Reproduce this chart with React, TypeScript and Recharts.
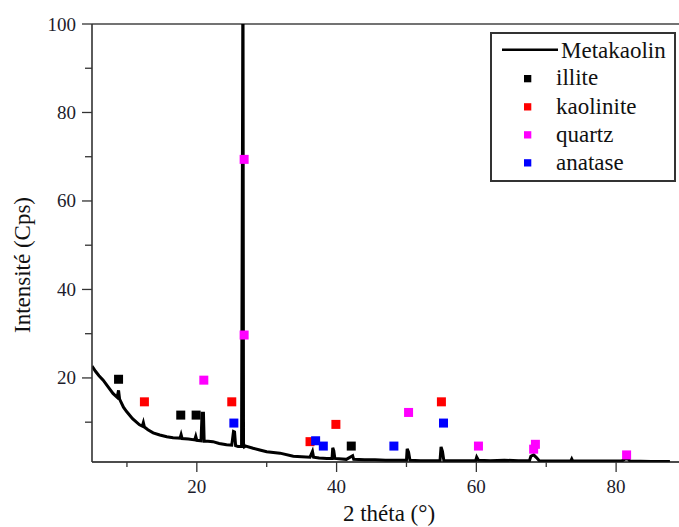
import React from 'react';
import {
  ComposedChart,
  Line,
  Scatter,
  XAxis,
  YAxis,
  ReferenceLine,
  Legend,
} from 'recharts';

const FONT = 'Liberation Serif';
const txt = (size: number) => ({ fontFamily: FONT, fontSize: size });

// Metakaolin XRD pattern (2θ, intensity)
const metakaolinX = [
  5.0, 5.5, 6.0, 6.6, 7.2, 8.0, 8.6, 8.8, 8.95, 9.5, 9.95, 10.8, 11.8, 12.2, 12.35, 12.5,
  13.0, 13.75, 14.7, 15.7, 16.6, 17.6, 17.75, 17.9, 18.8, 19.7, 19.85, 20.0, 20.6, 20.75,
  20.95, 21.05, 21.6, 22.3, 23.2, 24.25, 25.0, 25.25, 25.4, 25.55, 25.9, 26.4, 26.55, 26.6,
  26.68, 26.8, 27.0, 28.05, 29.0, 30.0, 31.9, 33.8, 35.0, 36.2, 36.55, 36.7, 37.5, 38.6,
  39.35, 39.45, 39.6, 39.75, 41.4, 42.3, 42.45, 44.0, 45.5, 47.0, 50.0, 50.1, 50.3, 50.5,
  52.0, 54.8, 54.95, 55.15, 55.35, 57.0, 59.9, 60.05, 60.3, 62.0, 64.0, 66.0, 67.6, 67.8,
  68.2, 68.6, 69.0, 73.5, 73.65, 73.8, 77.0, 80.8, 81.3, 81.7, 82.0, 85.0, 87.7,
];
const metakaolinY = [
  22.7, 21.5, 20.5, 19.5, 18.2, 16.5, 15.6, 17.2, 15.2, 13.4, 12.4, 10.8, 9.4, 9.1, 9.9, 8.9,
  8.3, 7.6, 7.1, 6.7, 6.5, 6.4, 7.2, 6.3, 6.2, 6.0, 6.8, 5.9, 5.8, 12.0,
  12.0, 5.7, 5.7, 5.6, 5.2, 4.9, 4.8, 7.9, 7.8, 4.7, 4.5, 4.5, 82.0, 120.0,
  5.2, 4.4, 4.6, 4.1, 3.7, 3.3, 3.0, 2.3, 2.2, 2.1, 3.4, 2.1, 1.9, 1.8,
  1.8, 4.2, 3.5, 1.8, 1.6, 2.4, 1.6, 1.5, 1.5, 1.4, 1.4, 4.0, 3.2, 1.4,
  1.3, 1.3, 4.4, 3.4, 1.3, 1.3, 1.3, 2.1, 1.4, 1.3, 1.4, 1.3, 1.3, 2.3,
  2.6, 2.0, 1.3, 1.2, 1.7, 1.2, 1.2, 1.2, 1.7, 1.7, 1.2, 1.1, 1.1,
];

// Phase markers
const illiteX = [8.8, 17.7, 19.9, 42.1];
const illiteY = [19.7, 11.6, 11.6, 4.6];
const kaoliniteX = [12.5, 25.0, 36.2, 39.9, 55.0];
const kaoliniteY = [14.6, 14.6, 5.6, 9.5, 14.6];
const quartzX = [21.0, 26.77, 26.77, 50.3, 60.3, 68.2, 68.45, 81.5];
const quartzY = [19.5, 69.4, 29.7, 12.2, 4.6, 3.9, 5.0, 2.6];
const anataseX = [25.3, 37.0, 38.1, 48.2, 55.3];
const anataseY = [9.8, 5.8, 4.6, 4.6, 9.8];

const xTicks = [10, 20, 30, 40, 50, 60, 70, 80];
const yTicks = [10, 20, 30, 40, 50, 60, 70, 80, 90, 100];
const xLabelTicks = [20, 40, 60, 80];
const yLabelTicks = [20, 40, 60, 80, 100];

const zip = (xs: number[], ys: number[]) => xs.map((x, i) => ({ x, y: ys[i] }));

const lineData = zip(metakaolinX, metakaolinY);
const series = [
  { name: 'illite', color: '#000000', data: zip(illiteX, illiteY) },
  { name: 'kaolinite', color: '#ff0000', data: zip(kaoliniteX, kaoliniteY) },
  { name: 'quartz', color: '#ff00ff', data: zip(quartzX, quartzY) },
  { name: 'anatase', color: '#0000ff', data: zip(anataseX, anataseY) },
];

const makeSquare = (color: string) => (props: any) => {
  const { cx, cy } = props;
  if (cx == null || cy == null) return <g />;
  return <rect x={cx - 4.5} y={cy - 4.5} width={9} height={9} fill={color} />;
};

const YTick = (props: any) => {
  const { x, y, payload } = props;
  const major = yLabelTicks.includes(payload.value);
  return (
    <g>
      <line x1={x - (major ? 10 : 7)} x2={x} y1={y} y2={y} stroke="#333" strokeWidth={1.3} />
      {major && (
        <text x={x - 16} y={y + 6.5} textAnchor="end" style={txt(19)} fill="#1c1c2c">
          {payload.value}
        </text>
      )}
    </g>
  );
};

const XTick = (props: any) => {
  const { x, y, payload } = props;
  const major = xLabelTicks.includes(payload.value);
  return (
    <g>
      <line x1={x} x2={x} y1={y} y2={y + (major ? 10 : 5)} stroke="#333" strokeWidth={1.3} />
      {major && (
        <text x={x} y={y + 31} textAnchor="middle" style={txt(19)} fill="#1c1c2c">
          {payload.value}
        </text>
      )}
    </g>
  );
};

const LegendBox = () => {
  const rowBase = [53.3, 81.5, 109.5, 137.5];
  return (
    <svg width={186} height={150} style={{ display: 'block' }}>
      <rect x={1} y={1} width={184} height={148} fill="#fff" stroke="#333" strokeWidth={2} />
      <line x1={12} x2={68} y1={17.7} y2={17.7} stroke="#000" strokeWidth={2.5} />
      <text x={71} y={25.7} style={txt(23)} fill="#111">
        Metakaolin
      </text>
      {series.map((s, i) => (
        <g key={s.name}>
          <rect x={34} y={rowBase[i] - 10.3} width={7.3} height={7.3} fill={s.color} />
          <text x={66} y={rowBase[i]} style={txt(23)} fill="#111">
            {s.name}
          </text>
        </g>
      ))}
    </svg>
  );
};

export default function App() {
  return (
    <div
      style={{
        position: 'absolute',
        left: 0,
        top: 0,
        width: 679,
        height: 527,
        overflow: 'hidden',
        background: '#fff',
        fontFamily: FONT,
      }}
    >
      <ComposedChart
        width={700}
        height={527}
        margin={{ top: 24, right: 14, left: 0, bottom: 0 }}
      >
        <XAxis
          type="number"
          dataKey="x"
          domain={[5, 90]}
          allowDataOverflow
          ticks={xTicks}
          interval={0}
          tickSize={0}
          tickMargin={0}
          tickLine={false}
          tick={<XTick />}
          height={65}
          axisLine={{ stroke: '#111', strokeWidth: 1.6 }}
          label={{
            content: () => (
              <text x={389} y={521} textAnchor="middle" style={txt(23)} fill="#111">
                2 théta (°)
              </text>
            ),
          }}
        />
        <YAxis
          type="number"
          dataKey="y"
          domain={[1, 100]}
          allowDataOverflow
          ticks={yTicks}
          interval={0}
          tickSize={0}
          tickMargin={0}
          tickLine={false}
          tick={<YTick />}
          width={92}
          axisLine={{ stroke: '#333', strokeWidth: 1.6 }}
          label={{
            content: () => (
              <text
                x={30}
                y={265}
                transform="rotate(-90 30 265)"
                textAnchor="middle"
                style={txt(23)}
                fill="#111"
              >
                Intensité (Cps)
              </text>
            ),
          }}
        />
        <ReferenceLine y={100} stroke="#444" strokeWidth={1.6} />
        <Line
          data={lineData}
          dataKey="y"
          name="Metakaolin"
          type="linear"
          stroke="#000"
          strokeWidth={3}
          dot={false}
          activeDot={false}
          isAnimationActive={false}
        />
        {series.map((s) => (
          <Scatter
            key={s.name}
            name={s.name}
            data={s.data}
            dataKey="y"
            fill={s.color}
            shape={makeSquare(s.color)}
            isAnimationActive={false}
          />
        ))}
        <Legend
          layout="vertical"
          align="center"
          verticalAlign="middle"
          width={186}
          height={150}
          wrapperStyle={{ left: 490, top: 32, width: 186, height: 150 }}
          content={() => <LegendBox />}
        />
      </ComposedChart>
    </div>
  );
}
